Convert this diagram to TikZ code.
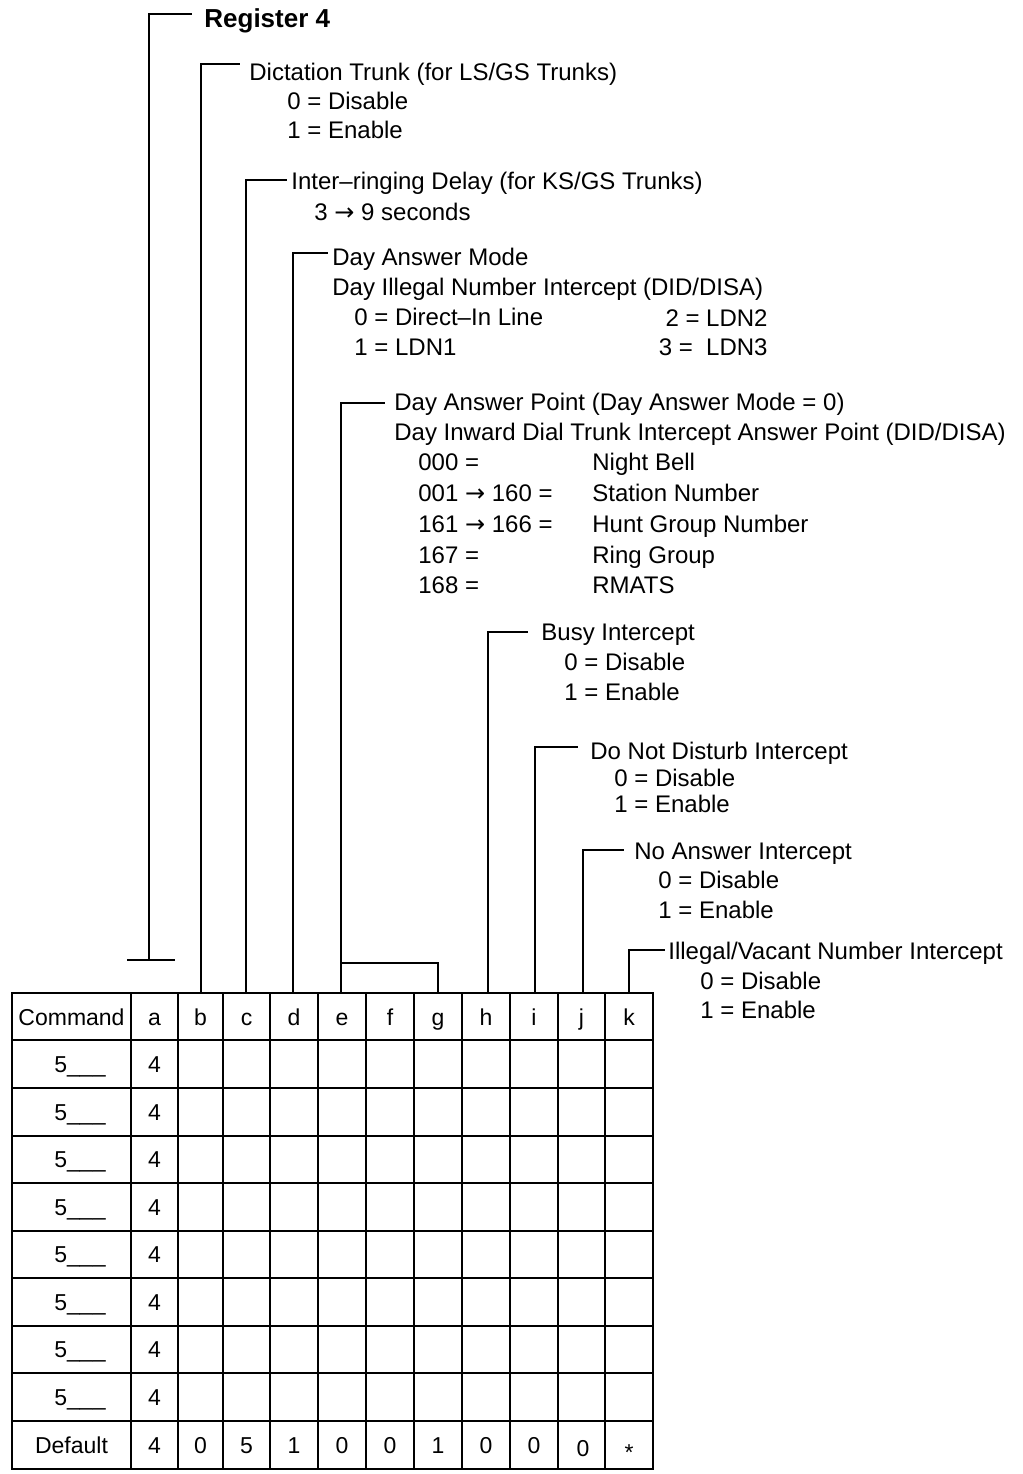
\documentclass[tikz,border=0pt]{standalone}
\usepackage{fontspec}
\setmainfont{Liberation Sans}
\newfontfamily\arrowfont{DejaVu Sans}
\newcommand{\rarr}{{\arrowfont →}}
\begin{document}
\begin{tikzpicture}[x=0.5pt,y=-0.5pt,
  lbl/.style={anchor=base west, inner sep=0pt, font=\fontsize{12pt}{14pt}\selectfont},
  rlbl/.style={anchor=base east, inner sep=0pt, font=\fontsize{12pt}{14pt}\selectfont},
  boldlbl/.style={anchor=base west, inner sep=0pt, font=\fontsize{13pt}{15pt}\selectfont\bfseries},
  cell/.style={anchor=base, inner sep=0pt, font=\fontsize{11.5pt}{13pt}\selectfont},
  lead/.style={line width=1pt},
  gridline/.style={line width=1.3pt}]
\useasboundingbox (0,0) rectangle (1023,1474);

% ---------- table ----------
\draw[gridline] (12,993) rectangle (653,1469);
\foreach \x in {131,178,223,270,318,366,414,462,510,558,605}
  \draw[gridline] (\x,993) -- (\x,1469);
\foreach \y in {1040,1088,1136,1183,1231,1278,1326,1373,1421}
  \draw[gridline] (12,\y) -- (653,\y);

% header
\node[cell] (hcmd) at (71.5,1025) {Command};
\foreach \c/\x in {a/154.5,b/200.5,c/246.5,d/294,e/342,f/390,g/438,h/486,i/534,j/581.5,k/629}
  \node[cell] (h\c) at (\x,1025) {\c};

% rows
\foreach \r [count=\i] in {1064,1112,1159,1207,1254,1302,1349,1397} {
  \node[cell] (cmd\i) at (80,\r+8) {5\_\_\_};
  \node[cell] (val\i) at (154.5,\r+8) {4};
}
% default row
\node[cell] (dft) at (71.5,1453) {Default};
\foreach \c/\x/\v in {a/154.5/4,b/200.5/0,c/246.5/5,d/294/1,e/342/0,f/390/0,g/438/1,h/486/0,i/534/0}
  \node[cell] (d\c) at (\x,1453) {\v};
\node[cell] (dj) at (583,1456) {0};
\node[cell] (dk) at (629,1460) {*};

% ---------- column tops ----------
\coordinate (topb) at (200.5,993);
\coordinate (topc) at (246,993);
\coordinate (topd) at (293,993);
\coordinate (tope) at (341,993);
\coordinate (topg) at (438,993);
\coordinate (toph) at (488,993);
\coordinate (topi) at (535,993);
\coordinate (topj) at (583,993);
\coordinate (topk) at (629,993);

% ---------- labels ----------
\node[boldlbl] (reg) at (204,27) {Register 4};

\node[lbl] (lb1) at (249,80) {Dictation Trunk (for LS/GS Trunks)};
\node[lbl] (lb2) at (287,109) {0 = Disable};
\node[lbl] (lb3) at (287,138) {1 = Enable};

\node[lbl] (lc1) at (291,189) {Inter--ringing Delay (for KS/GS Trunks)};
\node[lbl] (lc2) at (314,220) {3 \rarr\ 9 seconds};

\node[lbl] (ld1) at (332,265) {Day Answer Mode};
\node[lbl] (ld2) at (332,295) {Day Illegal Number Intercept (DID/DISA)};
\node[lbl] (ld3) at (354,325) {0 = Direct--In Line};
\node[lbl] (ld4) at (354,355) {1 = LDN1};
\node[rlbl] (ld5) at (768,326) {2 = LDN2};
\node[rlbl] (ld6) at (768,355) {3 =\ \ LDN3};

\node[lbl] (le1) at (394,410) {Day Answer Point (Day Answer Mode = 0)};
\node[lbl] (le2) at (394,440) {Day Inward Dial Trunk Intercept Answer Point (DID/DISA)};
\foreach \k/\v/\d [count=\i] in {470/000 =/Night Bell,501/001 \rarr\ 160 =/Station Number,532/161 \rarr\ 166 =/Hunt Group Number,563/167 =/Ring Group,593/168 =/RMATS} {
  \node[lbl] (lek\i) at (418,\k) {\v};
  \node[lbl] (lev\i) at (592,\k) {\d};
}

\node[lbl] (lh1) at (541,640) {Busy Intercept};
\node[lbl] (lh2) at (564,670) {0 = Disable};
\node[lbl] (lh3) at (564,700) {1 = Enable};

\node[lbl] (li1) at (590,759) {Do Not Disturb Intercept};
\node[lbl] (li2) at (614,786) {0 = Disable};
\node[lbl] (li3) at (614,812) {1 = Enable};

\node[lbl] (lj1) at (634,859) {No Answer Intercept};
\node[lbl] (lj2) at (658,888) {0 = Disable};
\node[lbl] (lj3) at (658,918) {1 = Enable};

\node[lbl] (lk1) at (668,959) {Illegal/Vacant Number Intercept};
\node[lbl] (lk2) at (700,989) {0 = Disable};
\node[lbl] (lk3) at (700,1018) {1 = Enable};

% ---------- leader ends ----------
\coordinate (ea) at (192,14);
\coordinate (eb) at (240,64);
\coordinate (ec) at (287,180);
\coordinate (ed) at (328,253);
\coordinate (ee) at (385,403);
\coordinate (eh) at (528,632);
\coordinate (ei) at (578,747);
\coordinate (ej) at (624,850);
\coordinate (ek) at (665,950);
\coordinate (bara) at (149,960);
\coordinate (barl) at (127,960);
\coordinate (barr) at (175,960);
\coordinate (jeg) at (341,963);

% ---------- leaders ----------
\draw[lead] (bara) |- (ea);
\draw[lead] (barl) -- (barr);
\draw[lead] (topb) |- (eb);
\draw[lead] (topc) |- (ec);
\draw[lead] (topd) |- (ed);
\draw[lead] (tope) |- (ee);
\draw[lead] (jeg) -| (topg);
\draw[lead] (toph) |- (eh);
\draw[lead] (topi) |- (ei);
\draw[lead] (topj) |- (ej);
\draw[lead] (topk) |- (ek);
\end{tikzpicture}
\end{document}
